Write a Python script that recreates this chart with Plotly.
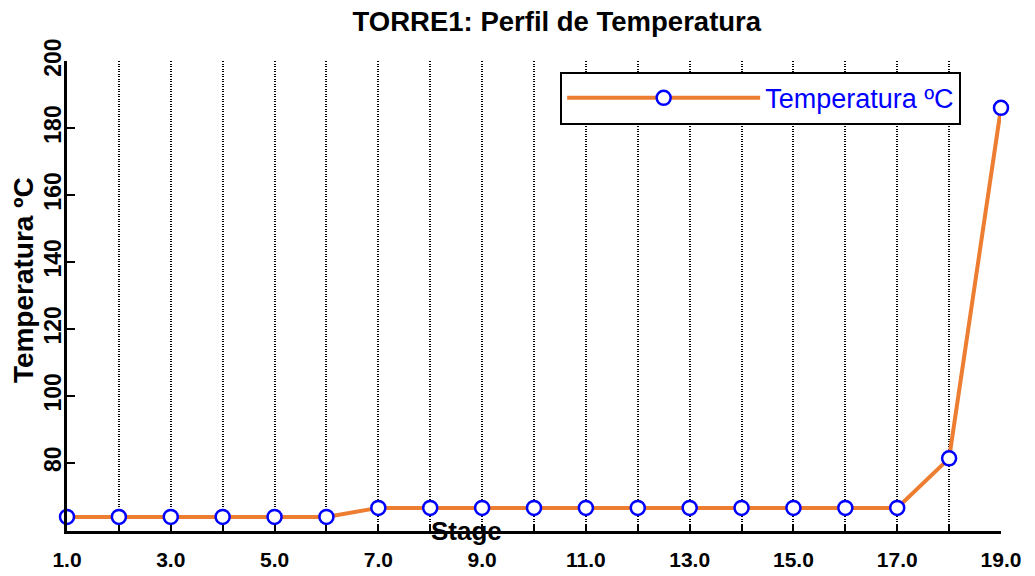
import plotly.graph_objects as go

# Stage vs temperature profile
stages = list(range(1, 20))
temperatura = [63.8, 63.8, 63.8, 63.8, 63.8, 63.8,
               66.5, 66.5, 66.5, 66.5, 66.5, 66.5, 66.5, 66.5, 66.5, 66.5, 66.5,
               81.3, 186.0]
x_ticktext = [f"{s:.1f}" if s % 2 == 1 else "" for s in stages]
y_ticks = [80, 100, 120, 140, 160, 180, 200]

font_family = "Arial, Liberation Sans, sans-serif"

fig = go.Figure()
fig.add_trace(go.Scatter(
    x=stages, y=temperatura, name="Temperatura ºC", mode="lines+markers",
    line=dict(color="#ED7D31", width=4),
    marker=dict(symbol="circle", size=14, color="white", line=dict(color="#0000FF", width=2.5)),
    cliponaxis=False,
))

fig.update_layout(
    width=1035, height=576,
    paper_bgcolor="white", plot_bgcolor="white",
    margin=dict(l=67, r=34, t=61, b=45, autoexpand=False),
    title=dict(text="<b>TORRE1: Perfil de Temperatura</b>", x=0.538, xanchor="center",
               y=0.9635, yanchor="middle", font=dict(family=font_family, size=27.5, color="black")),
    showlegend=True,
    legend=dict(x=0.528, y=0.977, xanchor="left", yanchor="top",
                bordercolor="black", borderwidth=2, bgcolor="white",
                font=dict(family=font_family, size=27, color="#0000FF"),
                itemwidth=193),
    annotations=[
        dict(text="<b>Stage</b>", xref="paper", yref="paper", x=0.428, y=0.0,
             xanchor="center", yanchor="middle", showarrow=False,
             font=dict(family=font_family, size=26, color="black")),
        dict(text="<b>Temperatura ºC</b>", xref="paper", yref="paper", x=-0.047, y=0.534,
             xanchor="center", yanchor="middle", showarrow=False, textangle=-90,
             font=dict(family=font_family, size=28, color="black")),
    ],
)

fig.update_xaxes(
    range=[1, 19], tickvals=stages, ticktext=x_ticktext, automargin=False,
    showline=True, linecolor="black", linewidth=2.5,
    ticks="inside", ticklen=6, tickwidth=2, tickcolor="black", ticklabelstandoff=8,
    showgrid=True, gridcolor="black", gridwidth=1.5, griddash="1px,1.5px",
    zeroline=False,
    tickfont=dict(family=font_family, size=21, color="black", weight="bold"),
)
fig.update_yaxes(
    range=[59.6, 200], tickvals=y_ticks, tickangle=-90, automargin=False,
    showline=True, linecolor="black", linewidth=2.5,
    ticks="inside", ticklen=8, tickwidth=2, tickcolor="black", ticklabelstandoff=-6,
    showgrid=False, zeroline=False,
    tickfont=dict(family=font_family, size=23, color="black", weight="bold"),
)

# the page body has a default margin; drop it so the figure sits at the window corner
fig.write_html("out.html", config={"displayModeBar": False},
               post_script="document.body.style.margin='0px';")
